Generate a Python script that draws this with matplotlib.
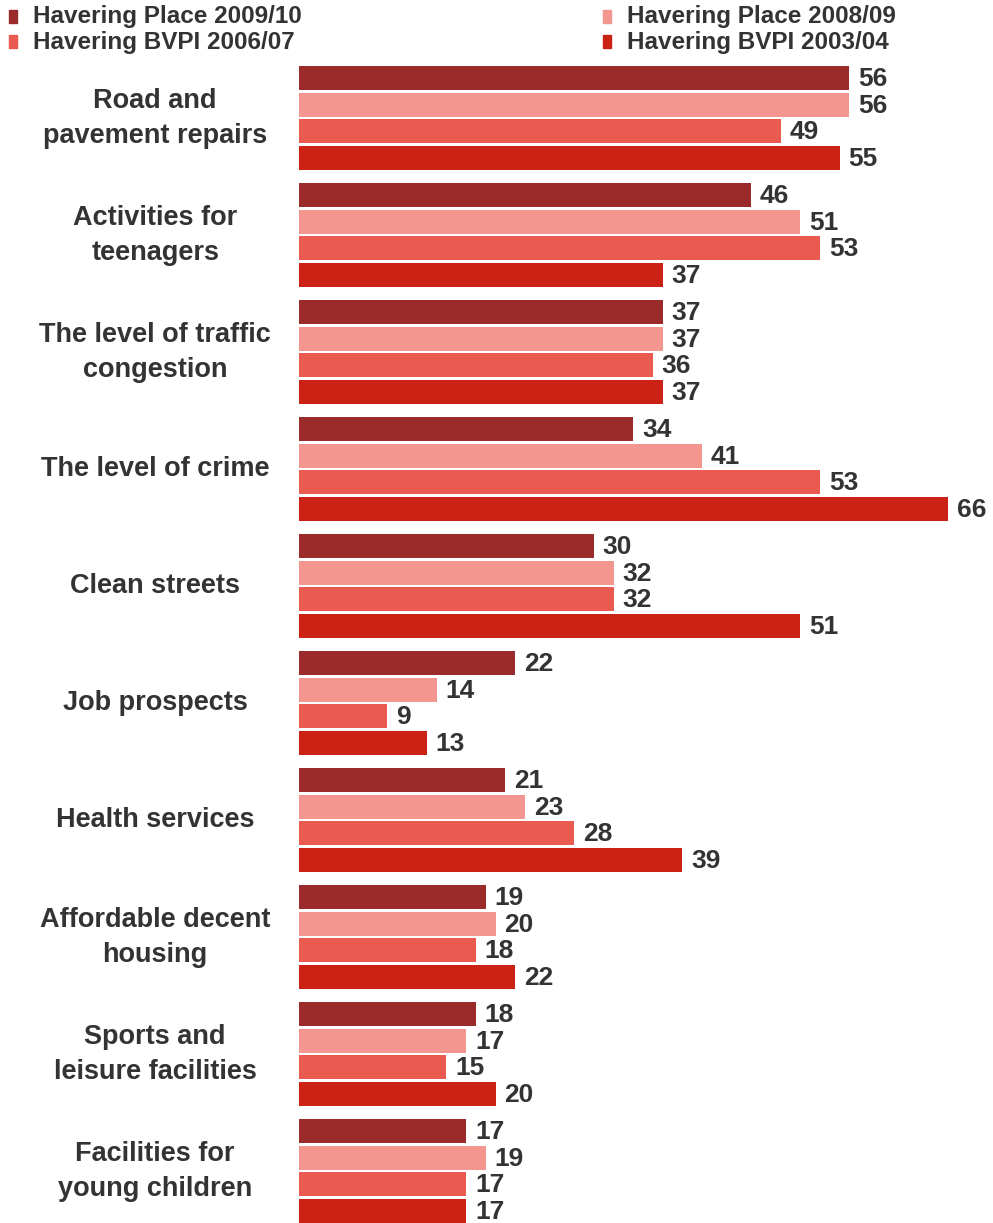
import matplotlib
matplotlib.use("Agg")
import matplotlib.pyplot as plt
from matplotlib.patches import Rectangle

plt.rcParams['font.family'] = ['Liberation Sans', 'DejaVu Sans']

categories = [
    "Road and\npavement repairs",
    "Activities for\nteenagers",
    "The level of traffic\ncongestion",
    "The level of crime",
    "Clean streets",
    "Job prospects",
    "Health services",
    "Affordable decent\nhousing",
    "Sports and\nleisure facilities",
    "Facilities for\nyoung children",
]
series_names = [
    "Havering Place 2009/10",
    "Havering Place 2008/09",
    "Havering BVPI 2006/07",
    "Havering BVPI 2003/04",
]
place_2009 = [56, 46, 37, 34, 30, 22, 21, 19, 18, 17]
place_2008 = [56, 51, 37, 41, 32, 14, 23, 20, 17, 19]
bvpi_2006 = [49, 53, 36, 53, 32, 9, 28, 18, 15, 17]
bvpi_2003 = [55, 37, 37, 66, 51, 13, 39, 22, 20, 17]
series_values = [place_2009, place_2008, bvpi_2006, bvpi_2003]
colors = ["#9B2A2A", "#F2968F", "#EB5A50", "#CC2216"]
text_color = "#333333"

W, H = 993, 1223
fig = plt.figure(figsize=(W / 100, H / 100), dpi=100)
ax_left, ax_right = 299 / W, 987 / W
ax_top, ax_bot = 1 - 62 / H, 0.0
ax = fig.add_axes([ax_left, ax_bot, ax_right - ax_left, ax_top - ax_bot])

step = 0.2265
height = 0.205
for j, (vals, col) in enumerate(zip(series_values, colors)):
    ys = [i + (j - 1.5) * step for i in range(len(categories))]
    ax.barh(ys, vals, height=height, color=col, edgecolor="none")
    for y, v in zip(ys, vals):
        ax.text(v + 0.9, y + 0.01, str(v), va="center", ha="left",
                fontsize=19, fontweight="bold", color=text_color)

ax.set_xlim(0, 70)
ax.set_ylim(9.444, -0.479)
ax.set_yticks([])
for i, c in enumerate(categories):
    ax.text(-0.209, i, c, transform=ax.get_yaxis_transform(), ha="center",
            va="center", fontsize=19.5, fontweight="bold", color=text_color,
            linespacing=1.45, multialignment="center")
ax.set_xticks([])
for s in ax.spines.values():
    s.set_visible(False)

# legend in two columns along the top
legend_items = [(9, 17, 0), (9, 42, 2), (603, 17, 1), (603, 42, 3)]
for x, y, k in legend_items:
    fig.patches.append(Rectangle((x / W, 1 - (y + 6) / H), 8 / W, 13 / H,
                                 transform=fig.transFigure, color=colors[k]))
    fig.text((x + 24) / W, 1 - y / H, series_names[k], ha="left", va="center",
             fontsize=17.5, fontweight="bold", color=text_color)

fig.savefig("out.png", dpi=100)
